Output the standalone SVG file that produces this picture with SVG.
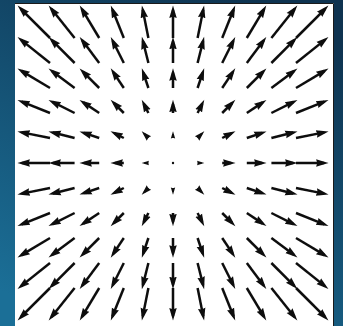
<svg xmlns="http://www.w3.org/2000/svg" xmlns:xlink="http://www.w3.org/1999/xlink" width="343" height="326" viewBox="0 0 343 326">
  <defs>
    <linearGradient id="bg" x1="0.75" y1="0" x2="0.2" y2="1">
      <stop offset="0" stop-color="#0e3350"/>
      <stop offset="1" stop-color="#1b6f97"/>
    </linearGradient>
    <filter id="soft" x="-5%" y="-5%" width="110%" height="110%">
      <feGaussianBlur stdDeviation="0.4"/>
    </filter>
    <marker id="ah" markerUnits="strokeWidth" markerWidth="6" markerHeight="4" refX="3.2" refY="2" orient="auto">
      <path d="M5,2 L0,0.5 L0.5,2 L0,3.5 Z" fill="#111111"/>
    </marker>
    <style>
      .q line { stroke: #111111; stroke-width: 2.5; marker-end: url(#ah); }
      .q line.s1 { stroke-width: 1.45; }
      .q line.s2 { stroke-width: 2.05; }
    </style>
    <g id="quad" class="q">
      <line class="s2" x1="24.6" y1="25" x2="28.7" y2="29.1"/>
      <line x1="49.2" y1="25" x2="58.46" y2="29.63"/>
      <line x1="73.8" y1="25" x2="89.24" y2="30.15"/>
      <line x1="98.4" y1="25" x2="120.16" y2="30.44"/>
      <line x1="123" y1="25" x2="151.12" y2="30.62"/>
      <line x1="24.6" y1="50" x2="29.23" y2="59.26"/>
      <line x1="49.2" y1="50" x2="59.2" y2="60"/>
      <line x1="73.8" y1="50" x2="89.71" y2="60.6"/>
      <line x1="98.4" y1="50" x2="120.46" y2="61.03"/>
      <line x1="123" y1="50" x2="151.33" y2="61.33"/>
      <line x1="24.6" y1="75" x2="29.75" y2="90.44"/>
      <line x1="49.2" y1="75" x2="59.8" y2="90.91"/>
      <line x1="73.8" y1="75" x2="90.2" y2="91.4"/>
      <line x1="98.4" y1="75" x2="120.83" y2="91.82"/>
      <line x1="123" y1="75" x2="151.61" y2="92.16"/>
      <line x1="24.6" y1="100" x2="30.04" y2="121.76"/>
      <line x1="49.2" y1="100" x2="60.23" y2="122.06"/>
      <line x1="73.8" y1="100" x2="90.62" y2="122.43"/>
      <line x1="98.4" y1="100" x2="121.2" y2="122.8"/>
      <line x1="123" y1="100" x2="151.91" y2="123.13"/>
      <line x1="24.6" y1="125" x2="30.22" y2="153.12"/>
      <line x1="49.2" y1="125" x2="60.53" y2="153.33"/>
      <line x1="73.8" y1="125" x2="90.96" y2="153.61"/>
      <line x1="98.4" y1="125" x2="121.53" y2="153.91"/>
      <line x1="123" y1="125" x2="152.2" y2="154.2"/>
    </g>
    <g id="xaxis" class="q">
      <line class="s1" x1="24.6" y1="0" x2="28.7" y2="0"/>
      <line x1="49.2" y1="0" x2="58.04" y2="0"/>
      <line x1="73.8" y1="0" x2="89.04" y2="0"/>
      <line x1="98.4" y1="0" x2="120.04" y2="0"/>
      <line x1="123" y1="0" x2="151.04" y2="0"/>
    </g>
    <g id="yaxis" class="q">
      <line class="s1" x1="0" y1="25" x2="0" y2="29.1"/>
      <line x1="0" y1="50" x2="0" y2="58.84"/>
      <line x1="0" y1="75" x2="0" y2="90.24"/>
      <line x1="0" y1="100" x2="0" y2="121.64"/>
      <line x1="0" y1="125" x2="0" y2="153.04"/>
    </g>
  </defs>

  <rect id="background" x="0" y="0" width="343" height="326" fill="url(#bg)"/>

  <g id="plot-frame">
    <rect x="15" y="3" width="319" height="324" fill="#ffffff"/>
    <path d="M15,3.5 H333.5 V326" fill="none" stroke="#1a1a1a" stroke-width="1"/>
  </g>

  <g id="vector-field" transform="translate(173,163)" filter="url(#soft)">
    <use xlink:href="#quad"/>
    <use xlink:href="#quad" transform="scale(-1,1)"/>
    <use xlink:href="#quad" transform="scale(1,-1)"/>
    <use xlink:href="#quad" transform="scale(-1,-1)"/>
    <use xlink:href="#xaxis"/>
    <use xlink:href="#xaxis" transform="scale(-1,1)"/>
    <use xlink:href="#yaxis"/>
    <use xlink:href="#yaxis" transform="scale(1,-1)"/>
    <circle cx="0" cy="0" r="1.2" fill="#111111"/>
  </g>
</svg>
